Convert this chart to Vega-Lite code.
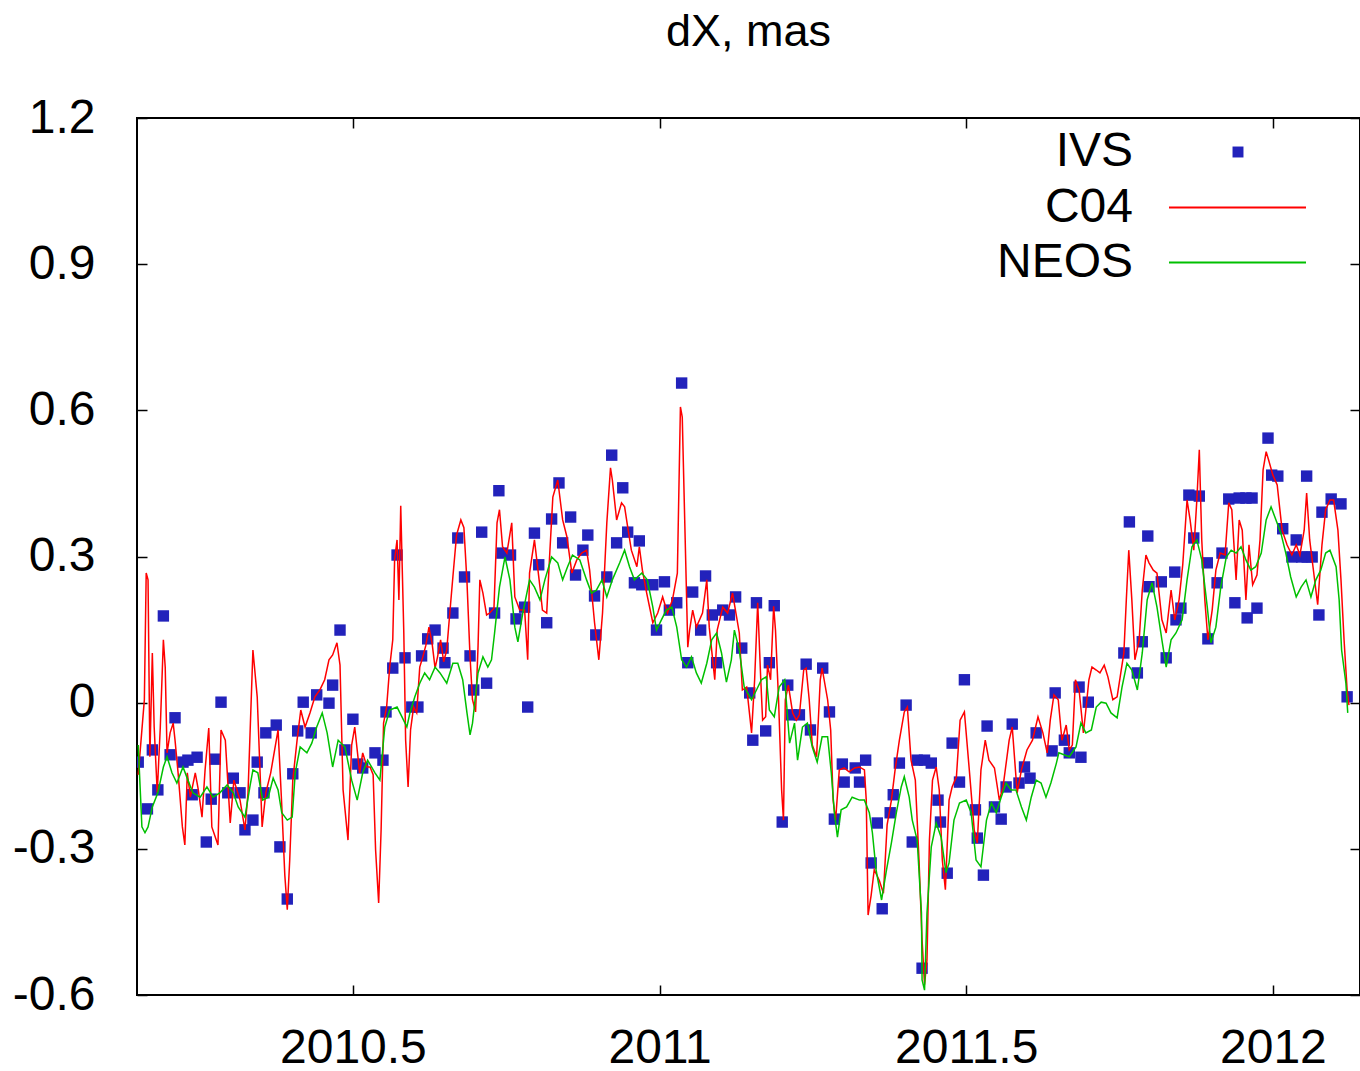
{
  "$schema": "https://vega.github.io/schema/vega-lite/v6.json",
  "width": 1223,
  "height": 877,
  "autosize": {"type": "none"},
  "padding": {"left": 137, "top": 118, "right": 0, "bottom": 76},
  "background": "white",
  "title": {"text": "dX, mas", "font": "Liberation Sans", "fontSize": 45, "fontWeight": "normal", "color": "#000", "frame": "group", "anchor": "middle", "baseline": "bottom", "offset": -6},
  "datasets": {
    "ivs": [
      {"t":2010.150,"v":-0.122},{"t":2010.165,"v":-0.218},{"t":2010.173,"v":-0.097},{"t":2010.182,"v":-0.179},{"t":2010.191,"v":0.178},{"t":2010.202,"v":-0.107},{"t":2010.210,"v":-0.031},{"t":2010.223,"v":-0.122},{"t":2010.231,"v":-0.118},{"t":2010.238,"v":-0.189},{"t":2010.246,"v":-0.112},{"t":2010.261,"v":-0.286},{"t":2010.269,"v":-0.198},{"t":2010.275,"v":-0.116},{"t":2010.285,"v":0.001},{"t":2010.296,"v":-0.185},{"t":2010.305,"v":-0.155},{"t":2010.316,"v":-0.185},{"t":2010.324,"v":-0.261},{"t":2010.337,"v":-0.241},{"t":2010.344,"v":-0.122},{"t":2010.355,"v":-0.185},{"t":2010.358,"v":-0.062},{"t":2010.375,"v":-0.046},{"t":2010.381,"v":-0.296},{"t":2010.393,"v":-0.403},{"t":2010.402,"v":-0.146},{"t":2010.410,"v":-0.058},{"t":2010.419,"v":0.001},{"t":2010.432,"v":-0.062},{"t":2010.441,"v":0.016},{"t":2010.461,"v":-0.001},{"t":2010.467,"v":0.036},{"t":2010.479,"v":0.149},{"t":2010.487,"v":-0.097},{"t":2010.500,"v":-0.034},{"t":2010.508,"v":-0.126},{"t":2010.516,"v":-0.134},{"t":2010.536,"v":-0.103},{"t":2010.549,"v":-0.118},{"t":2010.554,"v":-0.019},{"t":2010.565,"v":0.071},{"t":2010.572,"v":0.303},{"t":2010.585,"v":0.092},{"t":2010.596,"v":-0.009},{"t":2010.606,"v":-0.009},{"t":2010.612,"v":0.096},{"t":2010.622,"v":0.131},{"t":2010.634,"v":0.149},{"t":2010.647,"v":0.112},{"t":2010.650,"v":0.082},{"t":2010.663,"v":0.184},{"t":2010.671,"v":0.338},{"t":2010.682,"v":0.258},{"t":2010.691,"v":0.096},{"t":2010.697,"v":0.026},{"t":2010.710,"v":0.350},{"t":2010.718,"v":0.040},{"t":2010.731,"v":0.184},{"t":2010.738,"v":0.435},{"t":2010.743,"v":0.307},{"t":2010.757,"v":0.303},{"t":2010.766,"v":0.172},{"t":2010.780,"v":0.196},{"t":2010.785,"v":-0.009},{"t":2010.796,"v":0.348},{"t":2010.803,"v":0.283},{"t":2010.816,"v":0.164},{"t":2010.824,"v":0.377},{"t":2010.836,"v":0.451},{"t":2010.842,"v":0.328},{"t":2010.855,"v":0.381},{"t":2010.863,"v":0.262},{"t":2010.875,"v":0.313},{"t":2010.883,"v":0.344},{"t":2010.894,"v":0.219},{"t":2010.896,"v":0.139},{"t":2010.914,"v":0.258},{"t":2010.922,"v":0.508},{"t":2010.930,"v":0.328},{"t":2010.940,"v":0.441},{"t":2010.948,"v":0.350},{"t":2010.959,"v":0.246},{"t":2010.967,"v":0.332},{"t":2010.971,"v":0.242},{"t":2010.989,"v":0.242},{"t":2010.995,"v":0.149},{"t":2011.008,"v":0.248},{"t":2011.016,"v":0.190},{"t":2011.028,"v":0.205},{"t":2011.036,"v":0.656},{"t":2011.046,"v":0.082},{"t":2011.054,"v":0.227},{"t":2011.067,"v":0.149},{"t":2011.075,"v":0.260},{"t":2011.086,"v":0.180},{"t":2011.093,"v":0.082},{"t":2011.103,"v":0.190},{"t":2011.114,"v":0.180},{"t":2011.124,"v":0.217},{"t":2011.134,"v":0.112},{"t":2011.147,"v":0.020},{"t":2011.152,"v":-0.077},{"t":2011.158,"v":0.205},{"t":2011.173,"v":-0.058},{"t":2011.179,"v":0.082},{"t":2011.187,"v":0.199},{"t":2011.200,"v":-0.245},{"t":2011.209,"v":0.036},{"t":2011.215,"v":-0.025},{"t":2011.228,"v":-0.025},{"t":2011.239,"v":0.079},{"t":2011.246,"v":-0.056},{"t":2011.266,"v":0.071},{"t":2011.277,"v":-0.019},{"t":2011.285,"v":-0.239},{"t":2011.298,"v":-0.126},{"t":2011.301,"v":-0.163},{"t":2011.319,"v":-0.134},{"t":2011.326,"v":-0.163},{"t":2011.336,"v":-0.118},{"t":2011.345,"v":-0.329},{"t":2011.355,"v":-0.247},{"t":2011.363,"v":-0.423},{"t":2011.376,"v":-0.226},{"t":2011.381,"v":-0.189},{"t":2011.391,"v":-0.124},{"t":2011.402,"v":-0.005},{"t":2011.412,"v":-0.286},{"t":2011.420,"v":-0.118},{"t":2011.428,"v":-0.545},{"t":2011.432,"v":-0.118},{"t":2011.443,"v":-0.124},{"t":2011.454,"v":-0.200},{"t":2011.458,"v":-0.245},{"t":2011.469,"v":-0.350},{"t":2011.477,"v":-0.083},{"t":2011.489,"v":-0.163},{"t":2011.497,"v":0.047},{"t":2011.515,"v":-0.220},{"t":2011.518,"v":-0.278},{"t":2011.528,"v":-0.354},{"t":2011.534,"v":-0.048},{"t":2011.546,"v":-0.214},{"t":2011.557,"v":-0.239},{"t":2011.565,"v":-0.173},{"t":2011.575,"v":-0.044},{"t":2011.586,"v":-0.165},{"t":2011.595,"v":-0.132},{"t":2011.604,"v":-0.155},{"t":2011.614,"v":-0.062},{"t":2011.640,"v":-0.099},{"t":2011.645,"v":0.020},{"t":2011.660,"v":-0.077},{"t":2011.668,"v":-0.103},{"t":2011.684,"v":0.032},{"t":2011.687,"v":-0.112},{"t":2011.699,"v":0.001},{"t":2011.757,"v":0.102},{"t":2011.766,"v":0.371},{"t":2011.779,"v":0.061},{"t":2011.787,"v":0.125},{"t":2011.796,"v":0.342},{"t":2011.798,"v":0.238},{"t":2011.818,"v":0.248},{"t":2011.826,"v":0.092},{"t":2011.840,"v":0.268},{"t":2011.842,"v":0.170},{"t":2011.850,"v":0.194},{"t":2011.863,"v":0.426},{"t":2011.871,"v":0.338},{"t":2011.880,"v":0.424},{"t":2011.893,"v":0.287},{"t":2011.894,"v":0.131},{"t":2011.909,"v":0.246},{"t":2011.917,"v":0.307},{"t":2011.928,"v":0.418},{"t":2011.938,"v":0.205},{"t":2011.945,"v":0.420},{"t":2011.956,"v":0.420},{"t":2011.958,"v":0.174},{"t":2011.966,"v":0.420},{"t":2011.974,"v":0.194},{"t":2011.992,"v":0.543},{"t":2011.998,"v":0.467},{"t":2012.008,"v":0.465},{"t":2012.016,"v":0.357},{"t":2012.031,"v":0.299},{"t":2012.038,"v":0.334},{"t":2012.047,"v":0.299},{"t":2012.055,"v":0.465},{"t":2012.056,"v":0.299},{"t":2012.064,"v":0.299},{"t":2012.075,"v":0.180},{"t":2012.080,"v":0.391},{"t":2012.095,"v":0.418},{"t":2012.111,"v":0.408},{"t":2012.121,"v":0.012}
    ],
    "c04": [
      {"t":2010.150,"v":-0.148},{"t":2010.160,"v":0.006},{"t":2010.163,"v":0.266},{"t":2010.166,"v":0.252},{"t":2010.169,"v":-0.111},{"t":2010.173,"v":0.102},{"t":2010.176,"v":-0.050},{"t":2010.181,"v":-0.185},{"t":2010.186,"v":-0.050},{"t":2010.191,"v":0.129},{"t":2010.194,"v":0.073},{"t":2010.197,"v":-0.103},{"t":2010.202,"v":-0.062},{"t":2010.207,"v":-0.042},{"t":2010.210,"v":-0.077},{"t":2010.215,"v":-0.144},{"t":2010.222,"v":-0.255},{"t":2010.226,"v":-0.292},{"t":2010.230,"v":-0.144},{"t":2010.235,"v":-0.194},{"t":2010.243,"v":-0.144},{"t":2010.248,"v":-0.179},{"t":2010.254,"v":-0.235},{"t":2010.259,"v":-0.138},{"t":2010.265,"v":-0.052},{"t":2010.270,"v":-0.255},{"t":2010.280,"v":-0.292},{"t":2010.285,"v":-0.056},{"t":2010.292,"v":-0.077},{"t":2010.300,"v":-0.247},{"t":2010.306,"v":-0.159},{"t":2010.316,"v":-0.200},{"t":2010.324,"v":-0.261},{"t":2010.329,"v":-0.185},{"t":2010.337,"v":0.108},{"t":2010.344,"v":0.012},{"t":2010.352,"v":-0.255},{"t":2010.358,"v":-0.185},{"t":2010.366,"v":-0.144},{"t":2010.378,"v":-0.056},{"t":2010.384,"v":-0.210},{"t":2010.389,"v":-0.354},{"t":2010.393,"v":-0.425},{"t":2010.397,"v":-0.323},{"t":2010.402,"v":-0.159},{"t":2010.409,"v":-0.077},{"t":2010.415,"v":-0.015},{"t":2010.422,"v":-0.050},{"t":2010.430,"v":-0.021},{"t":2010.438,"v":0.012},{"t":2010.446,"v":0.026},{"t":2010.454,"v":0.047},{"t":2010.461,"v":0.088},{"t":2010.467,"v":0.098},{"t":2010.474,"v":0.123},{"t":2010.479,"v":0.077},{"t":2010.484,"v":-0.179},{"t":2010.492,"v":-0.282},{"t":2010.498,"v":-0.087},{"t":2010.503,"v":-0.050},{"t":2010.511,"v":-0.144},{"t":2010.516,"v":-0.103},{"t":2010.523,"v":-0.132},{"t":2010.528,"v":-0.132},{"t":2010.533,"v":-0.148},{"t":2010.537,"v":-0.302},{"t":2010.542,"v":-0.411},{"t":2010.546,"v":-0.261},{"t":2010.550,"v":-0.042},{"t":2010.555,"v":-0.009},{"t":2010.560,"v":0.073},{"t":2010.565,"v":0.129},{"t":2010.568,"v":0.293},{"t":2010.572,"v":0.334},{"t":2010.575,"v":0.211},{"t":2010.578,"v":0.404},{"t":2010.583,"v":0.143},{"t":2010.586,"v":-0.077},{"t":2010.590,"v":-0.173},{"t":2010.594,"v":-0.056},{"t":2010.599,"v":-0.009},{"t":2010.604,"v":-0.021},{"t":2010.609,"v":0.073},{"t":2010.614,"v":0.094},{"t":2010.619,"v":0.118},{"t":2010.624,"v":0.155},{"t":2010.629,"v":0.123},{"t":2010.634,"v":0.071},{"t":2010.638,"v":0.094},{"t":2010.643,"v":0.129},{"t":2010.648,"v":0.084},{"t":2010.653,"v":0.108},{"t":2010.658,"v":0.184},{"t":2010.663,"v":0.258},{"t":2010.669,"v":0.344},{"t":2010.676,"v":0.375},{"t":2010.681,"v":0.359},{"t":2010.686,"v":0.248},{"t":2010.691,"v":0.094},{"t":2010.695,"v":0.006},{"t":2010.700,"v":-0.019},{"t":2010.704,"v":0.114},{"t":2010.707,"v":0.252},{"t":2010.712,"v":0.225},{"t":2010.718,"v":0.180},{"t":2010.723,"v":0.184},{"t":2010.730,"v":0.194},{"t":2010.735,"v":0.369},{"t":2010.739,"v":0.396},{"t":2010.744,"v":0.320},{"t":2010.751,"v":0.307},{"t":2010.759,"v":0.369},{"t":2010.764,"v":0.217},{"t":2010.772,"v":0.190},{"t":2010.780,"v":0.190},{"t":2010.785,"v":0.088},{"t":2010.788,"v":0.266},{"t":2010.796,"v":0.334},{"t":2010.805,"v":0.237},{"t":2010.809,"v":0.190},{"t":2010.816,"v":0.184},{"t":2010.821,"v":0.307},{"t":2010.826,"v":0.422},{"t":2010.834,"v":0.457},{"t":2010.842,"v":0.375},{"t":2010.849,"v":0.340},{"t":2010.857,"v":0.266},{"t":2010.865,"v":0.293},{"t":2010.873,"v":0.307},{"t":2010.881,"v":0.313},{"t":2010.886,"v":0.272},{"t":2010.894,"v":0.164},{"t":2010.901,"v":0.088},{"t":2010.907,"v":0.184},{"t":2010.914,"v":0.369},{"t":2010.920,"v":0.482},{"t":2010.923,"v":0.457},{"t":2010.930,"v":0.375},{"t":2010.938,"v":0.410},{"t":2010.943,"v":0.402},{"t":2010.948,"v":0.361},{"t":2010.954,"v":0.313},{"t":2010.963,"v":0.279},{"t":2010.967,"v":0.320},{"t":2010.972,"v":0.272},{"t":2010.979,"v":0.225},{"t":2010.989,"v":0.164},{"t":2010.997,"v":0.184},{"t":2011.005,"v":0.217},{"t":2011.013,"v":0.184},{"t":2011.021,"v":0.211},{"t":2011.029,"v":0.266},{"t":2011.034,"v":0.607},{"t":2011.037,"v":0.586},{"t":2011.041,"v":0.375},{"t":2011.046,"v":0.114},{"t":2011.049,"v":0.149},{"t":2011.054,"v":0.190},{"t":2011.060,"v":0.155},{"t":2011.070,"v":0.184},{"t":2011.077,"v":0.252},{"t":2011.081,"v":0.155},{"t":2011.090,"v":0.047},{"t":2011.094,"v":0.149},{"t":2011.103,"v":0.196},{"t":2011.111,"v":0.184},{"t":2011.119,"v":0.225},{"t":2011.130,"v":0.143},{"t":2011.135,"v":0.026},{"t":2011.142,"v":0.032},{"t":2011.150,"v":-0.062},{"t":2011.155,"v":0.047},{"t":2011.160,"v":0.205},{"t":2011.165,"v":0.047},{"t":2011.168,"v":-0.036},{"t":2011.173,"v":-0.029},{"t":2011.176,"v":0.077},{"t":2011.181,"v":0.047},{"t":2011.186,"v":0.198},{"t":2011.189,"v":0.149},{"t":2011.194,"v":0.006},{"t":2011.199,"v":-0.179},{"t":2011.202,"v":-0.241},{"t":2011.205,"v":0.006},{"t":2011.210,"v":0.036},{"t":2011.217,"v":-0.021},{"t":2011.223,"v":-0.036},{"t":2011.228,"v":-0.025},{"t":2011.235,"v":0.067},{"t":2011.239,"v":0.071},{"t":2011.244,"v":0.006},{"t":2011.249,"v":-0.087},{"t":2011.256,"v":-0.111},{"t":2011.262,"v":0.047},{"t":2011.265,"v":0.071},{"t":2011.274,"v":0.006},{"t":2011.279,"v":-0.056},{"t":2011.283,"v":-0.200},{"t":2011.287,"v":-0.241},{"t":2011.293,"v":-0.138},{"t":2011.301,"v":-0.134},{"t":2011.309,"v":-0.142},{"t":2011.318,"v":-0.134},{"t":2011.326,"v":-0.132},{"t":2011.334,"v":-0.138},{"t":2011.337,"v":-0.200},{"t":2011.340,"v":-0.436},{"t":2011.345,"v":-0.395},{"t":2011.350,"v":-0.343},{"t":2011.358,"v":-0.364},{"t":2011.365,"v":-0.391},{"t":2011.371,"v":-0.251},{"t":2011.378,"v":-0.200},{"t":2011.384,"v":-0.138},{"t":2011.391,"v":-0.077},{"t":2011.399,"v":-0.019},{"t":2011.404,"v":-0.009},{"t":2011.410,"v":-0.118},{"t":2011.417,"v":-0.159},{"t":2011.423,"v":-0.323},{"t":2011.428,"v":-0.487},{"t":2011.432,"v":-0.579},{"t":2011.436,"v":-0.528},{"t":2011.440,"v":-0.282},{"t":2011.445,"v":-0.159},{"t":2011.451,"v":-0.132},{"t":2011.456,"v":-0.179},{"t":2011.461,"v":-0.323},{"t":2011.466,"v":-0.384},{"t":2011.472,"v":-0.200},{"t":2011.477,"v":-0.173},{"t":2011.484,"v":-0.152},{"t":2011.490,"v":-0.036},{"t":2011.497,"v":-0.019},{"t":2011.505,"v":-0.138},{"t":2011.513,"v":-0.261},{"t":2011.518,"v":-0.288},{"t":2011.524,"v":-0.138},{"t":2011.531,"v":-0.077},{"t":2011.537,"v":-0.118},{"t":2011.546,"v":-0.134},{"t":2011.554,"v":-0.200},{"t":2011.560,"v":-0.173},{"t":2011.570,"v":-0.077},{"t":2011.575,"v":-0.050},{"t":2011.583,"v":-0.185},{"t":2011.590,"v":-0.138},{"t":2011.599,"v":-0.097},{"t":2011.608,"v":-0.077},{"t":2011.617,"v":-0.029},{"t":2011.625,"v":-0.062},{"t":2011.632,"v":-0.103},{"t":2011.637,"v":-0.036},{"t":2011.643,"v":0.016},{"t":2011.650,"v":0.006},{"t":2011.656,"v":-0.077},{"t":2011.663,"v":-0.046},{"t":2011.668,"v":-0.097},{"t":2011.673,"v":-0.087},{"t":2011.678,"v":0.047},{"t":2011.684,"v":0.026},{"t":2011.691,"v":-0.062},{"t":2011.695,"v":-0.015},{"t":2011.700,"v":0.047},{"t":2011.705,"v":0.073},{"t":2011.712,"v":0.067},{"t":2011.718,"v":0.061},{"t":2011.725,"v":0.077},{"t":2011.731,"v":0.053},{"t":2011.739,"v":0.006},{"t":2011.746,"v":0.012},{"t":2011.751,"v":0.053},{"t":2011.757,"v":0.102},{"t":2011.761,"v":0.211},{"t":2011.765,"v":0.313},{"t":2011.770,"v":0.211},{"t":2011.775,"v":0.088},{"t":2011.782,"v":0.129},{"t":2011.787,"v":0.231},{"t":2011.793,"v":0.303},{"t":2011.798,"v":0.287},{"t":2011.805,"v":0.272},{"t":2011.811,"v":0.266},{"t":2011.819,"v":0.170},{"t":2011.826,"v":0.143},{"t":2011.834,"v":0.231},{"t":2011.840,"v":0.170},{"t":2011.847,"v":0.211},{"t":2011.853,"v":0.283},{"t":2011.860,"v":0.416},{"t":2011.865,"v":0.375},{"t":2011.871,"v":0.313},{"t":2011.876,"v":0.416},{"t":2011.880,"v":0.519},{"t":2011.884,"v":0.334},{"t":2011.889,"v":0.211},{"t":2011.894,"v":0.129},{"t":2011.901,"v":0.190},{"t":2011.907,"v":0.272},{"t":2011.914,"v":0.307},{"t":2011.922,"v":0.303},{"t":2011.928,"v":0.410},{"t":2011.933,"v":0.396},{"t":2011.940,"v":0.252},{"t":2011.945,"v":0.375},{"t":2011.950,"v":0.354},{"t":2011.956,"v":0.211},{"t":2011.961,"v":0.324},{"t":2011.967,"v":0.242},{"t":2011.974,"v":0.262},{"t":2011.979,"v":0.334},{"t":2011.984,"v":0.478},{"t":2011.989,"v":0.515},{"t":2011.993,"v":0.498},{"t":2012.000,"v":0.467},{"t":2012.007,"v":0.447},{"t":2012.015,"v":0.354},{"t":2012.023,"v":0.324},{"t":2012.031,"v":0.303},{"t":2012.038,"v":0.324},{"t":2012.044,"v":0.303},{"t":2012.051,"v":0.354},{"t":2012.055,"v":0.430},{"t":2012.060,"v":0.334},{"t":2012.067,"v":0.262},{"t":2012.073,"v":0.201},{"t":2012.080,"v":0.324},{"t":2012.086,"v":0.396},{"t":2012.093,"v":0.416},{"t":2012.099,"v":0.416},{"t":2012.106,"v":0.354},{"t":2012.111,"v":0.252},{"t":2012.116,"v":0.129},{"t":2012.121,"v":0.026},{"t":2012.124,"v":-0.005}
    ],
    "neos": [
      {"t":2010.150,"v":-0.087},{"t":2010.156,"v":-0.255},{"t":2010.161,"v":-0.267},{"t":2010.166,"v":-0.255},{"t":2010.173,"v":-0.214},{"t":2010.182,"v":-0.185},{"t":2010.191,"v":-0.132},{"t":2010.197,"v":-0.111},{"t":2010.205,"v":-0.144},{"t":2010.213,"v":-0.165},{"t":2010.223,"v":-0.132},{"t":2010.231,"v":-0.159},{"t":2010.239,"v":-0.185},{"t":2010.251,"v":-0.194},{"t":2010.262,"v":-0.173},{"t":2010.272,"v":-0.194},{"t":2010.283,"v":-0.185},{"t":2010.295,"v":-0.169},{"t":2010.305,"v":-0.185},{"t":2010.313,"v":-0.214},{"t":2010.324,"v":-0.235},{"t":2010.332,"v":-0.173},{"t":2010.337,"v":-0.138},{"t":2010.345,"v":-0.144},{"t":2010.353,"v":-0.200},{"t":2010.362,"v":-0.194},{"t":2010.370,"v":-0.155},{"t":2010.378,"v":-0.179},{"t":2010.384,"v":-0.226},{"t":2010.393,"v":-0.241},{"t":2010.401,"v":-0.235},{"t":2010.406,"v":-0.144},{"t":2010.414,"v":-0.091},{"t":2010.425,"v":-0.103},{"t":2010.433,"v":-0.083},{"t":2010.441,"v":-0.050},{"t":2010.450,"v":-0.021},{"t":2010.458,"v":-0.062},{"t":2010.467,"v":-0.132},{"t":2010.476,"v":-0.077},{"t":2010.487,"v":-0.091},{"t":2010.498,"v":-0.159},{"t":2010.507,"v":-0.200},{"t":2010.516,"v":-0.144},{"t":2010.524,"v":-0.118},{"t":2010.536,"v":-0.144},{"t":2010.544,"v":-0.159},{"t":2010.552,"v":-0.050},{"t":2010.560,"v":-0.015},{"t":2010.572,"v":-0.009},{"t":2010.580,"v":-0.029},{"t":2010.588,"v":-0.050},{"t":2010.593,"v":-0.021},{"t":2010.601,"v":0.012},{"t":2010.609,"v":0.040},{"t":2010.617,"v":0.061},{"t":2010.625,"v":0.047},{"t":2010.634,"v":0.073},{"t":2010.642,"v":0.061},{"t":2010.653,"v":0.040},{"t":2010.663,"v":0.081},{"t":2010.671,"v":0.081},{"t":2010.679,"v":0.047},{"t":2010.686,"v":-0.021},{"t":2010.691,"v":-0.066},{"t":2010.695,"v":-0.042},{"t":2010.704,"v":0.061},{"t":2010.712,"v":0.094},{"t":2010.720,"v":0.073},{"t":2010.726,"v":0.088},{"t":2010.731,"v":0.143},{"t":2010.739,"v":0.237},{"t":2010.748,"v":0.299},{"t":2010.756,"v":0.252},{"t":2010.764,"v":0.155},{"t":2010.769,"v":0.125},{"t":2010.777,"v":0.184},{"t":2010.788,"v":0.252},{"t":2010.796,"v":0.237},{"t":2010.805,"v":0.211},{"t":2010.813,"v":0.252},{"t":2010.824,"v":0.299},{"t":2010.834,"v":0.287},{"t":2010.842,"v":0.252},{"t":2010.850,"v":0.279},{"t":2010.858,"v":0.303},{"t":2010.870,"v":0.293},{"t":2010.881,"v":0.252},{"t":2010.889,"v":0.225},{"t":2010.897,"v":0.231},{"t":2010.906,"v":0.252},{"t":2010.914,"v":0.217},{"t":2010.923,"v":0.252},{"t":2010.935,"v":0.287},{"t":2010.943,"v":0.313},{"t":2010.951,"v":0.279},{"t":2010.959,"v":0.252},{"t":2010.971,"v":0.266},{"t":2010.980,"v":0.252},{"t":2010.989,"v":0.196},{"t":2010.995,"v":0.149},{"t":2011.003,"v":0.170},{"t":2011.011,"v":0.190},{"t":2011.020,"v":0.196},{"t":2011.028,"v":0.155},{"t":2011.036,"v":0.088},{"t":2011.044,"v":0.073},{"t":2011.052,"v":0.094},{"t":2011.060,"v":0.061},{"t":2011.068,"v":0.040},{"t":2011.077,"v":0.081},{"t":2011.085,"v":0.129},{"t":2011.093,"v":0.143},{"t":2011.101,"v":0.102},{"t":2011.109,"v":0.042},{"t":2011.117,"v":0.088},{"t":2011.122,"v":0.149},{"t":2011.130,"v":0.108},{"t":2011.138,"v":0.032},{"t":2011.150,"v":0.006},{"t":2011.158,"v":0.026},{"t":2011.166,"v":0.047},{"t":2011.174,"v":0.053},{"t":2011.179,"v":-0.015},{"t":2011.187,"v":-0.029},{"t":2011.195,"v":0.032},{"t":2011.204,"v":0.047},{"t":2011.212,"v":-0.083},{"t":2011.220,"v":-0.042},{"t":2011.225,"v":-0.118},{"t":2011.233,"v":-0.050},{"t":2011.241,"v":-0.042},{"t":2011.249,"v":-0.091},{"t":2011.257,"v":-0.122},{"t":2011.265,"v":-0.070},{"t":2011.274,"v":-0.070},{"t":2011.280,"v":-0.144},{"t":2011.285,"v":-0.226},{"t":2011.290,"v":-0.276},{"t":2011.296,"v":-0.220},{"t":2011.305,"v":-0.214},{"t":2011.314,"v":-0.194},{"t":2011.326,"v":-0.200},{"t":2011.334,"v":-0.200},{"t":2011.342,"v":-0.226},{"t":2011.347,"v":-0.267},{"t":2011.353,"v":-0.343},{"t":2011.362,"v":-0.405},{"t":2011.370,"v":-0.343},{"t":2011.378,"v":-0.288},{"t":2011.386,"v":-0.226},{"t":2011.394,"v":-0.173},{"t":2011.399,"v":-0.152},{"t":2011.407,"v":-0.194},{"t":2011.412,"v":-0.241},{"t":2011.420,"v":-0.282},{"t":2011.427,"v":-0.432},{"t":2011.428,"v":-0.569},{"t":2011.432,"v":-0.590},{"t":2011.436,"v":-0.432},{"t":2011.443,"v":-0.296},{"t":2011.451,"v":-0.247},{"t":2011.459,"v":-0.276},{"t":2011.467,"v":-0.349},{"t":2011.472,"v":-0.329},{"t":2011.480,"v":-0.241},{"t":2011.489,"v":-0.206},{"t":2011.500,"v":-0.200},{"t":2011.508,"v":-0.226},{"t":2011.516,"v":-0.323},{"t":2011.524,"v":-0.337},{"t":2011.533,"v":-0.241},{"t":2011.541,"v":-0.206},{"t":2011.549,"v":-0.226},{"t":2011.557,"v":-0.194},{"t":2011.565,"v":-0.165},{"t":2011.573,"v":-0.179},{"t":2011.581,"v":-0.179},{"t":2011.590,"v":-0.214},{"t":2011.598,"v":-0.241},{"t":2011.606,"v":-0.194},{"t":2011.614,"v":-0.159},{"t":2011.622,"v":-0.165},{"t":2011.630,"v":-0.194},{"t":2011.638,"v":-0.165},{"t":2011.647,"v":-0.124},{"t":2011.651,"v":-0.103},{"t":2011.668,"v":-0.111},{"t":2011.679,"v":-0.091},{"t":2011.687,"v":-0.042},{"t":2011.695,"v":-0.062},{"t":2011.704,"v":-0.056},{"t":2011.712,"v":-0.009},{"t":2011.720,"v":0.001},{"t":2011.728,"v":-0.001},{"t":2011.736,"v":-0.021},{"t":2011.746,"v":-0.031},{"t":2011.754,"v":0.032},{"t":2011.762,"v":0.081},{"t":2011.770,"v":0.067},{"t":2011.779,"v":0.026},{"t":2011.787,"v":0.102},{"t":2011.795,"v":0.211},{"t":2011.803,"v":0.246},{"t":2011.811,"v":0.196},{"t":2011.819,"v":0.129},{"t":2011.826,"v":0.073},{"t":2011.834,"v":0.129},{"t":2011.842,"v":0.143},{"t":2011.852,"v":0.170},{"t":2011.860,"v":0.252},{"t":2011.868,"v":0.320},{"t":2011.876,"v":0.334},{"t":2011.884,"v":0.293},{"t":2011.893,"v":0.196},{"t":2011.899,"v":0.123},{"t":2011.907,"v":0.155},{"t":2011.915,"v":0.237},{"t":2011.924,"v":0.299},{"t":2011.932,"v":0.313},{"t":2011.940,"v":0.307},{"t":2011.948,"v":0.320},{"t":2011.956,"v":0.293},{"t":2011.964,"v":0.272},{"t":2011.972,"v":0.279},{"t":2011.981,"v":0.307},{"t":2011.989,"v":0.375},{"t":2011.997,"v":0.402},{"t":2012.005,"v":0.375},{"t":2012.013,"v":0.348},{"t":2012.021,"v":0.307},{"t":2012.029,"v":0.258},{"t":2012.038,"v":0.217},{"t":2012.046,"v":0.237},{"t":2012.054,"v":0.252},{"t":2012.062,"v":0.217},{"t":2012.070,"v":0.252},{"t":2012.078,"v":0.272},{"t":2012.086,"v":0.307},{"t":2012.093,"v":0.313},{"t":2012.103,"v":0.279},{"t":2012.108,"v":0.211},{"t":2012.112,"v":0.108},{"t":2012.119,"v":0.040},{"t":2012.122,"v":-0.021}
    ]
  },
  "resolve": {"axis": {"x": "independent", "y": "independent"}, "scale": {"stroke": "independent"}, "legend": {"stroke": "independent"}},
  "layer": [
    {
      "data": {"name": "ivs"},
      "mark": {"type": "point", "shape": "square", "filled": true, "size": 130, "opacity": 1, "clip": true},
      "encoding": {
        "x": {"field": "t", "type": "quantitative", "scale": {"domain": [2010.148, 2012.142], "nice": false, "zero": false},
              "axis": {"orient": "bottom", "values": [2010.5, 2011, 2011.5, 2012], "labelExpr": "'' + datum.value", "labelPadding": 39, "labelFlush": false, "labelOverlap": false, "labelBaseline": "top"}},
        "y": {"field": "v", "type": "quantitative", "scale": {"domain": [-0.6, 1.2], "nice": false, "zero": false},
              "axis": {"orient": "left", "values": [-0.6, -0.3, 0, 0.3, 0.6, 0.9, 1.2], "labelExpr": "'' + datum.value", "labelPadding": 52, "labelFlush": false, "labelOverlap": false}},
        "fill": {"datum": "IVS", "type": "nominal",
                 "scale": {"domain": ["IVS"], "range": ["#2222bb"]},
                 "legend": {
                   "title": null, "orient": "none", "legendX": 1077, "legendY": 10, "padding": 0,
                   "labelFont": "Liberation Sans", "labelFontSize": 48, "labelColor": "#000",
                   "labelAlign": "right", "labelBaseline": "middle", "labelOffset": -129, "symbolOffset": 0,
                   "symbolType": "square", "symbolSize": 120, "symbolStrokeWidth": 0, "symbolOpacity": 1, "labelLimit": 400
                 }}
      }
    },
    {
      "data": {"name": "c04"},
      "mark": {"type": "line", "strokeWidth": 1.5, "clip": true},
      "encoding": {
        "x": {"field": "t", "type": "quantitative", "axis": {"orient": "top", "values": [2010.5, 2011, 2011.5, 2012], "labels": false}},
        "y": {"field": "v", "type": "quantitative", "axis": {"orient": "right", "values": [-0.6, -0.3, 0, 0.3, 0.6, 0.9, 1.2], "labels": false}},
        "stroke": {"datum": "C04", "type": "nominal",
                   "scale": {"domain": ["C04"], "range": ["#ff0000"]},
                   "legend": {
                     "title": null, "orient": "none", "legendX": 1031, "legendY": 20, "padding": 0,
                     "labelFont": "Liberation Sans", "labelFontSize": 48, "labelColor": "#000",
                     "labelAlign": "right", "labelBaseline": "middle", "labelOffset": -174, "symbolOffset": 0,
                     "symbolType": "stroke", "symbolSize": 18769, "symbolStrokeWidth": 2, "symbolOpacity": 1, "labelLimit": 400
                   }}
      }
    },
    {
      "data": {"name": "neos"},
      "mark": {"type": "line", "strokeWidth": 1.5, "clip": true},
      "encoding": {
        "x": {"field": "t", "type": "quantitative", "axis": null},
        "y": {"field": "v", "type": "quantitative", "axis": null},
        "stroke": {"datum": "NEOS", "type": "nominal",
                   "scale": {"domain": ["NEOS"], "range": ["#00c000"]},
                   "legend": {
                     "title": null, "orient": "none", "legendX": 1031, "legendY": 75, "padding": 0,
                     "labelFont": "Liberation Sans", "labelFontSize": 48, "labelColor": "#000",
                     "labelAlign": "right", "labelBaseline": "middle", "labelOffset": -174, "symbolOffset": 0,
                     "symbolType": "stroke", "symbolSize": 18769, "symbolStrokeWidth": 2, "symbolOpacity": 1, "labelLimit": 400
                   }}
      }
    }
  ],
  "config": {
    "font": "Liberation Sans",
    "view": {"stroke": "#000", "strokeWidth": 2},
    "axis": {"labelFont": "Liberation Sans", "labelFontSize": 48, "labelColor": "#000", "tickColor": "#000", "tickSize": -10, "tickWidth": 1.5, "domain": false, "grid": false, "title": null}
  }
}
